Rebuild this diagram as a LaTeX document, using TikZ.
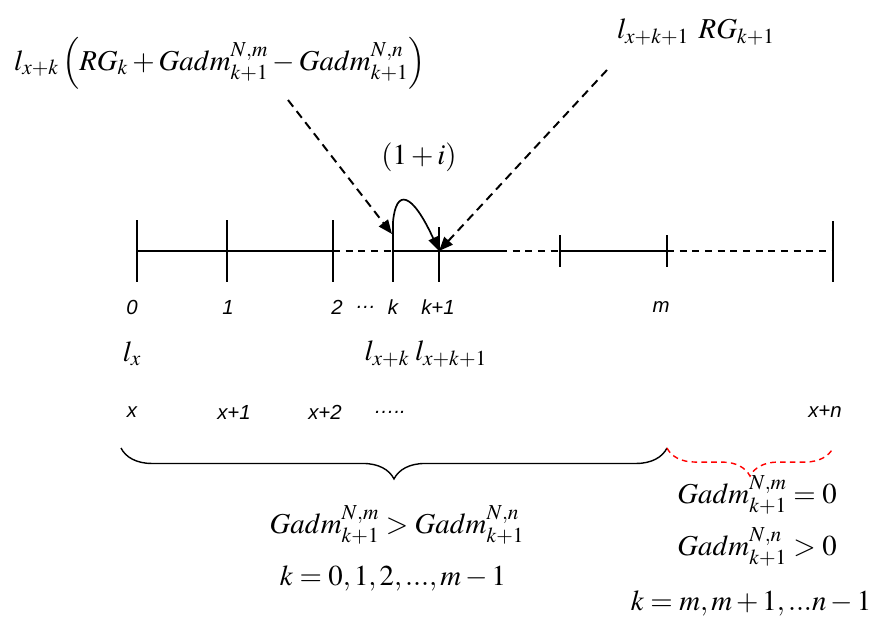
\documentclass[tikz,border=0pt]{standalone}
\usepackage{mathptmx}
\usepackage[no-math]{fontspec}
\setmainfont{Liberation Serif}
\setsansfont{Liberation Sans}
\usetikzlibrary{arrows.meta, decorations.pathreplacing}

\begin{document}
\begin{tikzpicture}[
  x=0.025cm, y=-0.025cm,
  formula/.style={inner sep=1pt, font=\fontsize{20.5}{24}\selectfont},
  ticklabel/.style={inner sep=1pt, font=\fontsize{14.5}{17}\selectfont\sffamily\itshape},
  axisline/.style={line width=1pt},
  tickmark/.style={line width=1.2pt},
  dashline/.style={line width=1pt, dash pattern=on 5pt off 4pt},
  pointer/.style={-{Triangle[length=10pt,width=8pt]}, line width=1.4pt, dash pattern=on 6pt off 4pt},
  jump/.style={-{Triangle[length=10pt,width=7pt]}, line width=1.2pt},
  bigbrace/.style={decorate, decoration={brace, mirror, amplitude=22pt}, line width=1pt}
]
\useasboundingbox (0,0) rectangle (874,623);

% Puntos del eje
\coordinate (t0) at (137,251);
\coordinate (t1) at (227,251);
\coordinate (t2) at (333,251);
\coordinate (tk) at (393,251);
\coordinate (tk1) at (439,251);
\coordinate (e1) at (500,251);
\coordinate (t5) at (560,251);
\coordinate (tm) at (667,251);
\coordinate (tn) at (833,251);

% Eje temporal
\draw[axisline] (t0) -- (t2);
\draw[dashline] (t2) -- (tk);
\draw[axisline] (tk) -- (e1);
\draw[dashline] (e1) -- (t5);
\draw[axisline] (t5) -- (tm);
\draw[dashline] (tm) -- (tn);

% Marcas
\foreach \p in {t0,t1,t2}
  \draw[tickmark] ([yshift=31*0.025cm]\p) -- ([yshift=-31*0.025cm]\p);
\draw[tickmark] ([yshift=29*0.025cm]tk) -- ([yshift=-31*0.025cm]tk);
\draw[tickmark] ([yshift=24*0.025cm]tk1) -- ([yshift=-31*0.025cm]tk1);
\foreach \p in {t5,tm}
  \draw[tickmark] ([yshift=16*0.025cm]\p) -- ([yshift=-16*0.025cm]\p);
\draw[tickmark] ([yshift=30*0.025cm]tn) -- ([yshift=-31*0.025cm]tn);

% Etiquetas de periodos
\node[ticklabel] (n0) at (132,307) {0};
\node[ticklabel] (n1) at (228,307) {1};
\node[ticklabel] (n2) at (337,307) {2};
\node[ticklabel] (ndots) at (366,307) {\ldots};
\node[ticklabel] (nk) at (393,307) {k};
\node[ticklabel] (nk1) at (438,307) {k+1};
\node[ticklabel] (nm) at (661,307) {m};

% Sobrevivientes
\node[formula] (lx) at (132,354) {$l_x$};
\node[formula] (lxk) at (387,354) {$l_{x+k}$};
\node[formula] (lxk1) at (451,354) {$l_{x+k+1}$};

% Edades
\node[ticklabel] (ax) at (132,412) {x};
\node[ticklabel] (ax1) at (234,412) {x+1};
\node[ticklabel] (ax2) at (325,412) {x+2};
\node[ticklabel] (adots) at (390,412) {\ldots..};
\node[ticklabel] (axn) at (825,412) {x+n};

% Flujos
\node[formula] (flowk) at (220,63)
  {$l_{x+k}\left(RG_k+Gadm_{k+1}^{N,m}-Gadm_{k+1}^{N,n}\right)$};
\node[formula] (flowk1) at (696,32) {$l_{x+k+1}\;\,RG_{k+1}$};
\node[formula] (rate) at (419,157) {$\left(1+i\right)$};

\coordinate (s1) at (288,100);
\coordinate (s2) at (607,70);
\coordinate (ktop) at (393,222);
\coordinate (kin) at (392,234);

\draw[pointer] (s1) -- (kin);
\draw[pointer] (s2) -- (tk1);
\draw[jump] (ktop) .. controls (396,188) and (412,192) .. (tk1);

% Llaves
\coordinate (b0) at (121,448);
\coordinate (b1) at (667,448);
\coordinate (b2) at (833,448);
\draw[bigbrace] (b0) -- (b1);
\draw[bigbrace, red, dash pattern=on 4pt off 3pt, decoration={amplitude=20pt}] (b1) -- (b2);

\node[formula] (condL) at (397,525) {$Gadm_{k+1}^{N,m}>Gadm_{k+1}^{N,n}$};
\node[formula] (rangeL) at (393,578) {$k=0,1,2,...,m-1$};
\node[formula] (condR1) at (757,495) {$Gadm_{k+1}^{N,m}=0$};
\node[formula] (condR2) at (757,547) {$Gadm_{k+1}^{N,n}>0$};
\node[formula] (rangeR) at (751,603) {$k=m,m+1,...n-1$};

\end{tikzpicture}
\end{document}
